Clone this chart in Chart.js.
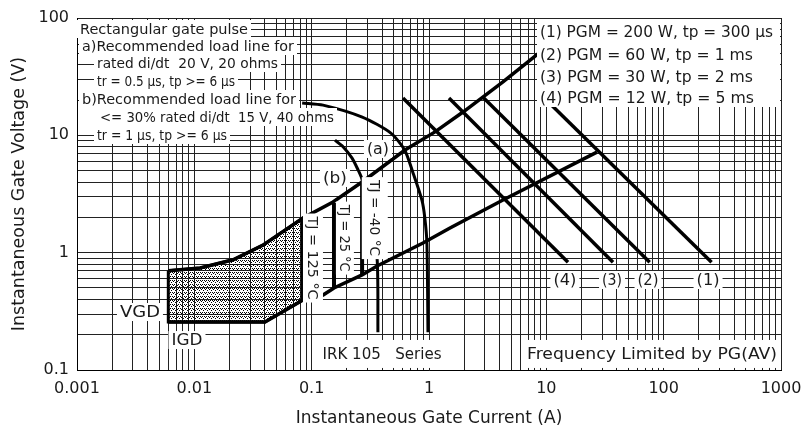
<!DOCTYPE html>
<html>
<head>
<meta charset="utf-8">
<script src="https://cdn.jsdelivr.net/npm/chart.js@4.4.0/dist/chart.umd.min.js"></script>
<style>
html, body { margin: 0; padding: 0; background: #fff; }
#wrap { width: 801px; height: 434px; }
</style>
</head>
<body>
<div id="wrap"><canvas id="gateChart"></canvas></div>
<script>
// axes
const xTicks = [0.001, 0.01, 0.1, 1, 10, 100, 1000];
const xTickLabels = ['0.001', '0.01', '0.1', '1', '10', '100', '1000'];
const yTicks = [0.1, 1, 10, 100];
const yTickLabels = ['0.1', '1', '10', '100'];

// peak gate power curves, [I (A), V (V)]
const pgm1 = [[10, 20], [256, 0.83]];
const pgm2 = [[2.9, 21], [76, 0.83]];
const pgm3 = [[1.48, 20.8], [37, 0.83]];
const pgm4 = [[0.6, 20.8], [15.3, 0.83]];

// recommended load lines (a) and (b)
const loadA = [[0.083, 18.9], [0.125, 18.1], [0.27, 14.3], [0.47, 10.5], [0.62, 7.5], [0.73, 4.8], [0.87, 2.8], [0.92, 2.0], [0.96, 1.2], [0.98, 0.21]];
const loadB = [[0.158, 9.1], [0.185, 8.0], [0.221, 6.4], [0.248, 5.1], [0.269, 4.2], [0.314, 1.9], [0.361, 0.9], [0.367, 0.21]];

// gate characteristic spread
const gateMax = [[0.006, 0.7], [0.0112, 0.74], [0.0214, 0.87], [0.0385, 1.16], [0.0843, 1.97], [0.152, 2.7], [0.269, 4.0], [0.624, 7.5], [1.125, 10.7], [1.95, 15.8], [4.27, 28.5], [8.8, 51]];
const gateMin = [[0.006, 0.256], [0.040, 0.256], [0.0843, 0.395], [0.125, 0.435], [0.155, 0.5], [0.269, 0.646], [0.361, 0.77], [0.889, 1.21], [1.51, 1.62], [4.27, 2.81], [27, 7.2]];

// non trigger area (VGD / IGD)
const noTrigArea = [[0.006, 0.7], [0.0112, 0.74], [0.0214, 0.87], [0.0385, 1.16], [0.0843, 1.97], [0.0843, 0.395], [0.040, 0.256], [0.006, 0.256], [0.006, 0.7]];

// junction temperature limits
const tj125 = [[0.0843, 1.97], [0.0843, 0.395]];
const tj25 = [[0.155, 2.65], [0.155, 0.5]];
const tjm40 = [[0.269, 4.0], [0.269, 0.646]];

const FONT = '"DejaVu Sans"';
const toXY = arr => arr.map(p => ({x: p[0], y: p[1]}));

// grid = every 1..9 step in each decade
function logGrid(dec) {
  const out = [];
  for (let i = 0; i < dec.length - 1; i++)
    for (let m = 1; m < 10; m++) out.push(m * dec[i]);
  out.push(dec[dec.length - 1]);
  return out;
}
function decadeLabel(v, dec, labels) {
  for (let i = 0; i < dec.length; i++)
    if (Math.abs(v / dec[i] - 1) < 1e-6) return labels[i];
  return '';
}

// dotted fill for the no-trigger area
const tile = document.createElement('canvas');
tile.width = 4; tile.height = 4;
const tctx = tile.getContext('2d');
tctx.fillStyle = '#000';
[[0,0],[2,0],[1,1],[3,2]].forEach(p => tctx.fillRect(p[0], p[1], 1, 1));
const ctx = document.getElementById('gateChart').getContext('2d');
const dots = ctx.createPattern(tile, 'repeat');

// text notes: pixel offsets from chart area (ref 'tl' / 'tr') or data coords (ref 'data')
const notes = [
  {t: 'Rectangular gate pulse', ref: 'tl', x: 3, y: 11, w: 168, s: 14},
  {t: 'a)Recommended load line for', ref: 'tl', x: 5, y: 28, w: 212, s: 14},
  {t: 'rated di/dt  20 V, 20 ohms', ref: 'tl', x: 20, y: 45, w: 181, s: 14},
  {t: 'tr = 0.5 µs, tp >= 6 µs', ref: 'tl', x: 20, y: 63, w: 138, s: 14},
  {t: 'b)Recommended load line for', ref: 'tl', x: 5, y: 81, w: 214, s: 14},
  {t: '<= 30% rated di/dt  15 V, 40 ohms', ref: 'tl', x: 23, y: 99, w: 234, s: 14},
  {t: 'tr = 1 µs, tp >= 6 µs', ref: 'tl', x: 20, y: 117, w: 130, s: 14},
  {t: '(1) PGM = 200 W, tp = 300 µs', ref: 'tr', x: -241, y: 14, w: 233, s: 16},
  {t: '(2) PGM = 60 W, tp = 1 ms', ref: 'tr', x: -241, y: 37, w: 213, s: 16},
  {t: '(3) PGM = 30 W, tp = 2 ms', ref: 'tr', x: -241, y: 59, w: 213, s: 16},
  {t: '(4) PGM = 12 W, tp = 5 ms', ref: 'tr', x: -241, y: 80, w: 214, s: 16},
  {t: '(a)', ref: 'data', x: 0.367, y: 7.65, w: 22, s: 16, a: 'center'},
  {t: '(b)', ref: 'data', x: 0.158, y: 4.33, w: 24, s: 16, a: 'center'},
  {t: '(4)', ref: 'data', x: 14.4, y: 0.585, w: 23, s: 15, a: 'center'},
  {t: '(3)', ref: 'data', x: 36.3, y: 0.585, w: 20, s: 15, a: 'center'},
  {t: '(2)', ref: 'data', x: 73.6, y: 0.585, w: 21, s: 15, a: 'center'},
  {t: '(1)', ref: 'data', x: 239, y: 0.585, w: 23, s: 15, a: 'center'},
  {t: 'VGD', ref: 'data', x: 0.00344, y: 0.312, w: 40, s: 16, a: 'center'},
  {t: 'IGD', ref: 'data', x: 0.00866, y: 0.18, w: 31, s: 16, a: 'center'},
  {t: 'TJ = 125 °C', ref: 'data', x: 0.1026, y: 0.90, w: 83, s: 14, a: 'center', r: Math.PI / 2, bh: 20},
  {t: 'TJ = 25 °C', ref: 'data', x: 0.192, y: 1.33, w: 67, s: 14, a: 'center', r: Math.PI / 2, bh: 18},
  {t: 'TJ = -40 °C', ref: 'data', x: 0.345, y: 1.97, w: 76, s: 14, a: 'center', r: Math.PI / 2, bh: 26},
  {t: 'IRK 105   Series', ref: 'data', x: 0.398, y: 0.137, w: 119, s: 16, a: 'center', bh: 28},
  {t: 'Frequency Limited by PG(AV)', ref: 'data', x: 79.6, y: 0.137, w: 250, s: 16, a: 'center', bh: 28}
];

const notesPlugin = {
  id: 'notes',
  afterDatasetsDraw(chart) {
    const c = chart.ctx, area = chart.chartArea, sx = chart.scales.x, sy = chart.scales.y;
    c.save();
    c.fillStyle = '#fff';
    c.fillRect(area.right - 244, area.top + 1, 243, 88);
    for (const n of notes) {
      let px, py;
      if (n.ref === 'data') { px = sx.getPixelForValue(n.x); py = sy.getPixelForValue(n.y); }
      else { px = (n.ref === 'tr' ? area.right : area.left) + n.x; py = area.top + n.y; }
      c.save();
      c.translate(px, py);
      if (n.r) c.rotate(n.r);
      c.font = n.s + 'px ' + FONT;
      const m = c.measureText(n.t).width;
      const x0 = n.a === 'center' ? -n.w / 2 : 0;
      const bh = n.bh || 18;
      c.fillStyle = '#fff';
      c.fillRect(x0 - 3, -bh / 2, n.w + 6, bh);
      c.scale(n.w / m, 1);
      c.fillStyle = '#1a1a1a';
      c.textAlign = 'left';
      c.textBaseline = 'middle';
      c.fillText(n.t, x0 * m / n.w, 1);
      c.restore();
    }
    c.restore();
  }
};

const line = (data, width, extra) => Object.assign({
  data: toXY(data), showLine: true, pointRadius: 0, borderColor: '#000',
  borderWidth: width, fill: false, tension: 0
}, extra || {});

const config = {
  type: 'scatter',
  data: {
    datasets: [
      line(noTrigArea, 3, {fill: 'shape', backgroundColor: dots}),
      line(gateMax, 3.5),
      line(gateMin, 3.5),
      line(pgm1, 3.5), line(pgm2, 3.5), line(pgm3, 3.5), line(pgm4, 3.5),
      line(loadA, 3, {tension: 0.25}),
      line(loadB, 3, {tension: 0.25}),
      line(tj125, 4), line(tj25, 4), line(tjm40, 4)
    ]
  },
  options: {
    responsive: true,
    maintainAspectRatio: false,
    animation: false,
    layout: {padding: {top: 18, right: 20, left: 0, bottom: 0}},
    plugins: {legend: {display: false}, tooltip: {enabled: false}},
    scales: {
      x: {
        type: 'logarithmic', min: 0.001, max: 1000, position: 'bottom',
        afterBuildTicks: s => { s.ticks = logGrid(xTicks).map(v => ({value: v})); },
        afterFit: s => { s.height = 64; s.paddingLeft = 0; s.paddingRight = 0; },
        ticks: {
          autoSkip: false, maxRotation: 0, padding: 9, color: '#1a1a1a',
          font: {family: FONT, size: 16},
          callback: v => decadeLabel(v, xTicks, xTickLabels)
        },
        grid: {color: '#222', lineWidth: 1, drawTicks: false},
        border: {color: '#000', width: 1},
        title: {display: true, text: 'Instantaneous Gate Current (A)', color: '#1a1a1a',
          font: {family: FONT, size: 17}, padding: {top: 4, bottom: 5}}
      },
      y: {
        type: 'logarithmic', min: 0.1, max: 100,
        afterBuildTicks: s => { s.ticks = logGrid(yTicks).map(v => ({value: v})); },
        afterFit: s => { s.width = 77; s.paddingTop = 0; s.paddingBottom = 0; },
        ticks: {
          autoSkip: false, padding: 8, color: '#1a1a1a',
          font: {family: FONT, size: 16},
          callback: v => decadeLabel(v, yTicks, yTickLabels)
        },
        grid: {color: '#222', lineWidth: 1, drawTicks: false},
        border: {color: '#000', width: 1},
        title: {display: true, text: 'Instantaneous Gate Voltage (V)', color: '#1a1a1a',
          font: {family: FONT, size: 17.5}, padding: {top: 9, bottom: 4}}
      }
    }
  },
  plugins: [notesPlugin]
};

const gateChart = new Chart(ctx, config);
</script>
</body>
</html>
